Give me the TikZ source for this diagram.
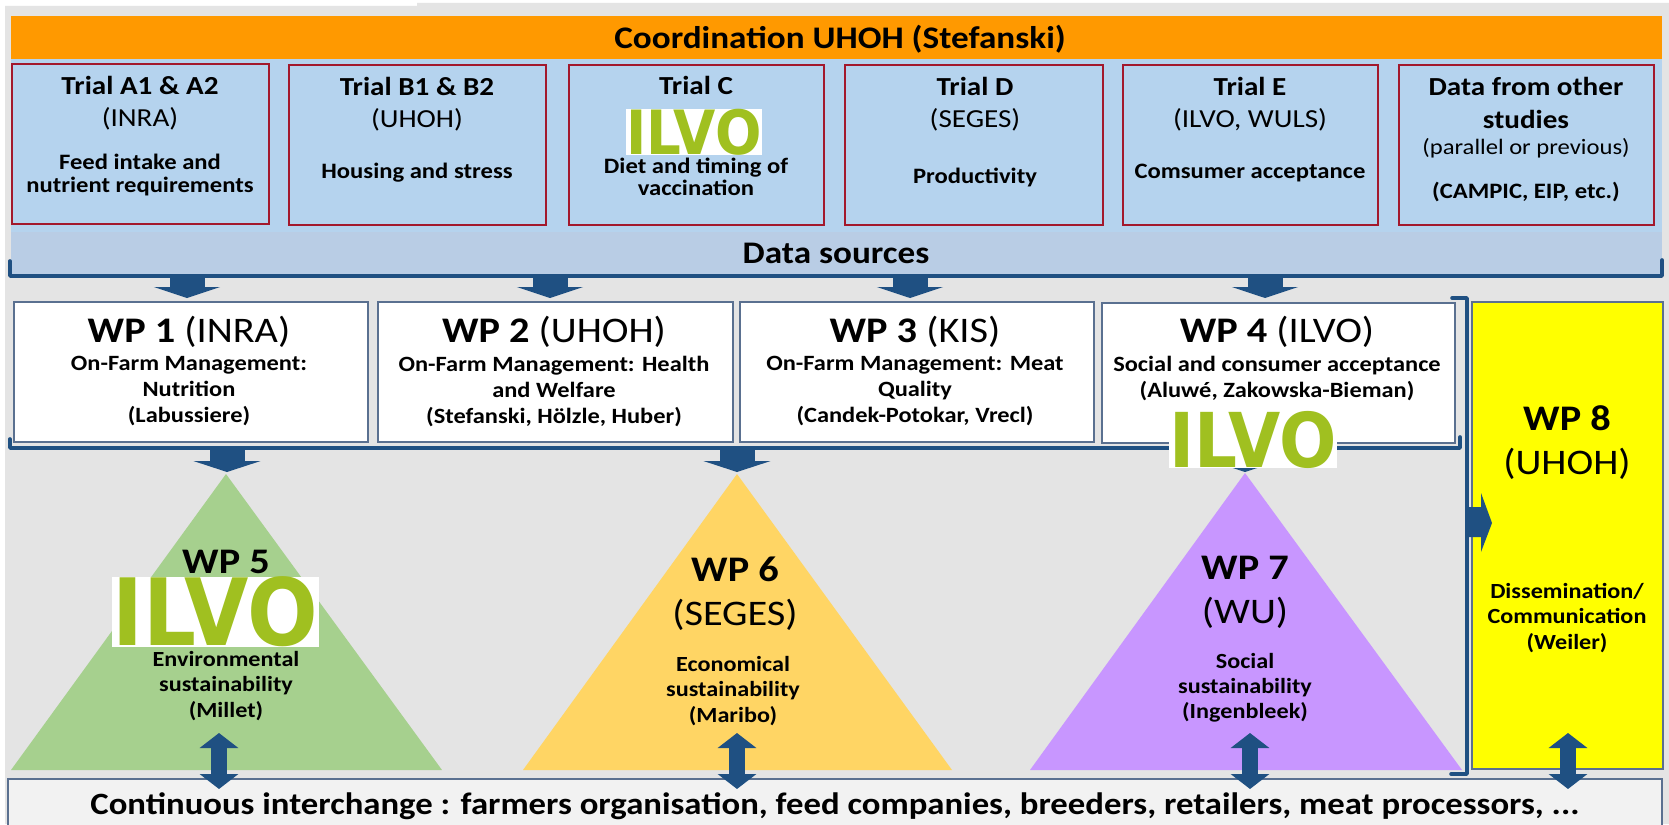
\documentclass[tikz,border=0pt]{standalone}
\usepackage{fontspec}
\setmainfont[FakeStretch=1.12]{Carlito}
\newfontfamily\logofont{DejaVu Sans}
\usetikzlibrary{arrows.meta}
\definecolor{bggrey}{HTML}{E4E4E4}
\definecolor{orangebar}{HTML}{FF9900}
\definecolor{panelblue}{HTML}{B9CDE5}
\definecolor{trialblue}{HTML}{B5D3EE}
\definecolor{trialred}{HTML}{A3182C}
\definecolor{navy}{HTML}{1F5082}
\definecolor{wpedge}{HTML}{5A7090}
\definecolor{barfill}{HTML}{F2F2F2}
\definecolor{trigreen}{HTML}{A6D08E}
\definecolor{triyellow}{HTML}{FFD564}
\definecolor{tripurple}{HTML}{C896FF}
\definecolor{logogreen}{HTML}{A0C020}
\definecolor{wpyellow}{HTML}{FFFF00}
\newcommand{\fs}[2]{\fontsize{#1pt}{#2pt}\selectfont}
% name, centre x, centre y, width pt, height pt (half of pixel sizes)
\newcommand{\ilvologo}[5]{%
  \node[fill=white,inner sep=0pt,minimum width=#4pt,minimum height=#5pt] (#1) at (#2,#3) {};
  \node[inner sep=0pt,text=logogreen] (#1t) at (#2,#3)
    {\resizebox{0.995\dimexpr#4pt\relax}{0.985\dimexpr#5pt\relax}{\logofont\bfseries ILVO}};}
\tikzset{
  x=0.5pt,y=-0.5pt,
  trialbox/.style={draw=trialred,line width=1.2pt,fill=trialblue},
  wpbox/.style={draw=wpedge,line width=0.7pt,fill=white},
  tbig/.style={inner sep=0pt,align=center,text=black,font=\fs{18}{22}},
  ttrial/.style={inner sep=0pt,align=center,text=black,font=\fs{13}{15.5}},
  tbody/.style={inner sep=0pt,align=center,text=black,font=\fs{10.8}{12.6}\bfseries},
  ttb/.style={inner sep=0pt,align=center,text=black,font=\fs{11}{11.3}\bfseries},
  twp/.style={inner sep=0pt,align=center,text=black,font=\fs{10.9}{13}\bfseries},
  bracket/.style={draw=navy,line width=1.8pt,line cap=round,line join=round},
  downarrow/.style={navy,line width=17.5pt,-{Triangle[length=5.5pt,width=33pt]}},
  twoway/.style={navy,line width=8pt,{Triangle[length=7.5pt,width=19pt]}-{Triangle[length=7.5pt,width=19pt]}},
}
\begin{document}
\begin{tikzpicture}
\useasboundingbox (0,0) rectangle (1669,824);
\fill[white] (0,0) rectangle (1669,824);
\fill[bggrey] (5,6) -- (417,6) -- (417,3) -- (1669,3) -- (1669,824) -- (5,824) -- cycle;
% top panels
\fill[panelblue] (11,59) rectangle (1662,276);
\fill[trialblue] (11,59) rectangle (1662,232);
\fill[orangebar] (11,16) rectangle (1662,59);
\node[inner sep=0pt,font=\fs{15.7}{18}\bfseries] (coord) at (840,39) {Coordination UHOH (Stefanski)};
% trial boxes
\draw[trialbox] (12,64) rectangle (269,224);
\draw[trialbox] (289,65) rectangle (546,225);
\draw[trialbox] (569,65) rectangle (824,225);
\draw[trialbox] (845,65) rectangle (1103,225);
\draw[trialbox] (1123,65) rectangle (1378,225);
\draw[trialbox] (1399,65) rectangle (1654,225);
\node[ttrial] (a1) at (140,103) {\textbf{Trial A1 \& A2}\\[0.2pt](INRA)};
\node[ttb] (a2) at (140,175) {Feed intake and\\nutrient requirements};
\node[ttrial] (b1) at (417,104) {\textbf{Trial B1 \& B2}\\[0.2pt](UHOH)};
\node[ttb] (b2) at (417,173) {Housing and stress};
\node[ttrial,font=\fs{13}{15.5}\bfseries] (c1) at (696,85) {Trial C};
\node[ttb] (c2) at (696,177) {Diet and timing of\\vaccination};
\node[ttrial] (d1) at (975,104) {\textbf{Trial D}\\[0.2pt](SEGES)};
\node[ttb] (d2) at (975,177) {Productivity};
\node[ttrial] (e1) at (1250,104) {\textbf{Trial E}\\[0.2pt](ILVO, WULS)};
\node[ttb] (e2) at (1250,173) {Comsumer acceptance};
\node[ttrial] (f1) at (1526,103) {\textbf{Data from other}\\[0.6pt]\textbf{studies}};
\node[inner sep=0pt,font=\fs{11}{13}] (f2) at (1526,148) {(parallel or previous)};
\node[ttb] (f3) at (1526,192) {(CAMPIC, EIP, etc.)};
\node[inner sep=0pt,font=\fs{15.7}{18}\bfseries] (src) at (836,253) {Data sources};
\draw[bracket] (10,261) |- (1662,276) -- (1662,260);
% arrows data sources -> WP
\coordinate (s1) at (187,276); \coordinate (w1) at (187,298);
\coordinate (s2) at (550,276); \coordinate (w2) at (550,298);
\coordinate (s3) at (910,276); \coordinate (w3) at (910,298);
\coordinate (s4) at (1265,276); \coordinate (w4) at (1265,298);
\draw[downarrow] (s1) -- (w1);
\draw[downarrow] (s2) -- (w2);
\draw[downarrow] (s3) -- (w3);
\draw[downarrow] (s4) -- (w4);
% WP boxes
\draw[wpbox] (14,302) rectangle (368,442);
\draw[wpbox] (378,302) rectangle (733,442);
\draw[wpbox] (740,302) rectangle (1094,442);
\draw[wpbox] (1102,303) rectangle (1455,443);
\node[tbig] (wt1) at (189,332) {\textbf{WP 1} (INRA)};
\node[tbig] (wt2) at (554,332) {\textbf{WP 2} (UHOH)};
\node[tbig] (wt3) at (915,332) {\textbf{WP 3} (KIS)};
\node[tbig] (wt4) at (1277,332) {\textbf{WP 4} (ILVO)};
\node[twp] (wb1) at (189,391) {On-Farm Management:\\Nutrition\\(Labussiere)};
\node[twp] (wb2) at (554,391) {On-Farm Management: Health\\and Welfare\\(Stefanski, Hölzle, Huber)};
\node[twp] (wb3) at (915,391) {On-Farm Management: Meat\\Quality\\(Candek-Potokar, Vrecl)};
\node[twp] (wb4) at (1277,378) {Social and consumer acceptance\\(Aluwé, Zakowska-Bieman)};
\draw[bracket] (10,439) |- (1460,448) -- (1460,437);
% triangles
\fill[trigreen] (226,474) -- (442,770) -- (11,770) -- cycle;
\fill[triyellow] (737,474) -- (952,770) -- (523,770) -- cycle;
\fill[tripurple] (1245,473) -- (1462,770) -- (1030,770) -- cycle;
% arrows WP -> triangles
\coordinate (b1) at (227,448); \coordinate (tt1) at (227,472);
\coordinate (b2) at (737,448); \coordinate (tt2) at (737,472);
\coordinate (b3) at (1245,448); \coordinate (tt3) at (1245,472);
\draw[downarrow,-{Triangle[length=5.5pt,width=33.5pt]}] (b1) -- (tt1);
\draw[downarrow,-{Triangle[length=5.5pt,width=33.5pt]}] (b2) -- (tt2);
\draw[downarrow,-{Triangle[length=5.5pt,width=33.5pt]}] (b3) -- (tt3);
% WP 8
\draw[draw=wpedge,line width=0.6pt,fill=wpyellow] (1472,302) rectangle (1663,769);
\draw[bracket] (1452,298) -| (1467,774) -- (1451,774);
\fill[navy] (1465,507) -- (1481,507) -- (1481,493) -- (1492,523) -- (1481,552) -- (1481,537) -- (1465,537) -- cycle;
% bottom bar
\draw[draw=wpedge,line width=0.7pt,fill=barfill] (8,830) -- (8,779) -- (1662,779) -- (1662,830);
\node[inner sep=0pt,font=\fs{15.5}{18}\bfseries] (cont) at (835,806) {Continuous interchange : farmers organisation, feed companies, breeders, retailers, meat processors, ...};
% triangle texts
\node[tbig,font=\fs{18}{22}\bfseries] (t5) at (226,562) {WP 5};
\node[tbody] (t5b) at (226,686) {Environmental\\sustainability\\(Millet)};
\node[tbig] (t6) at (735,594) {\textbf{WP 6}\\(SEGES)};
\node[tbody] (t6b) at (733,691) {Economical\\sustainability\\(Maribo)};
\node[tbig] (t7) at (1245,592) {\textbf{WP 7}\\(WU)};
\node[tbody] (t7b) at (1245,688) {Social\\sustainability\\(Ingenbleek)};
\node[tbig] (t8) at (1567,443) {\textbf{WP 8}\\(UHOH)};
\node[tbody] (t8b) at (1567,618) {Dissemination/\\Communication\\(Weiler)};
% two-way arrows
\coordinate (u1) at (219,733); \coordinate (v1) at (219,789);
\coordinate (u2) at (737,733); \coordinate (v2) at (737,789);
\coordinate (u3) at (1250,733); \coordinate (v3) at (1250,789);
\coordinate (u4) at (1568,733); \coordinate (v4) at (1568,789);
\draw[twoway] (u1) -- (v1);
\draw[twoway] (u2) -- (v2);
\draw[twoway] (u3) -- (v3);
\draw[twoway] (u4) -- (v4);
% logos
\ilvologo{lc}{694}{132}{68}{23}
\ilvologo{l4}{1253}{439.5}{84}{28.5}
\ilvologo{l5}{215.5}{612}{103.5}{35}
\end{tikzpicture}
\end{document}
